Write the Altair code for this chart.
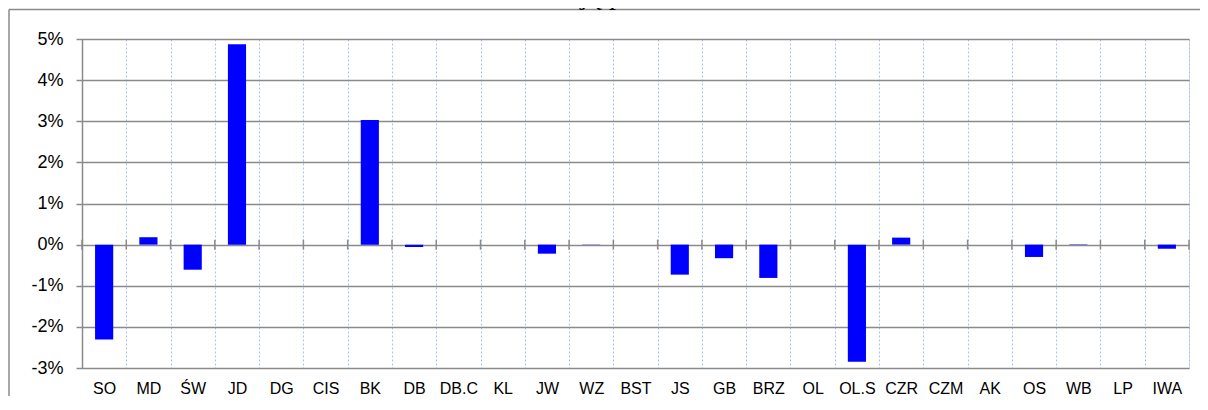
import altair as alt
import pandas as pd

categories = ["SO", "MD", "ŚW", "JD", "DG", "CIS", "BK", "DB", "DB.C", "KL", "JW", "WZ",
              "BST", "JS", "GB", "BRZ", "OL", "OL.S", "CZR", "CZM", "AK", "OS", "WB", "LP", "IWA"]
values = [-0.0231, 0.0018, -0.0061, 0.0487, 0.0, 0.0, 0.0303, -0.0006, 0.0, 0.0, -0.0022, -0.0001,
          0.0, -0.0073, -0.0033, -0.0081, 0.0, -0.0285, 0.0017, 0.0, 0.0, -0.0030, 0.0001, 0.0, -0.0010]
y_ticks = [-0.03, -0.02, -0.01, 0.0, 0.01, 0.02, 0.03, 0.04, 0.05]
title_text = "rewizją planu u.t."

W, H = 1107, 329
GRAY = "#8a8a8a"
FONT = "Liberation Sans"

df = pd.DataFrame({"cat": categories, "val": values})
df_end = pd.DataFrame({"cat": [categories[-1]]})

xscale = alt.Scale(domain=categories, paddingInner=0, paddingOuter=0)
yscale = alt.Scale(domain=[-0.03, 0.05], nice=False, zero=False)

border_top = alt.Chart(df_end).mark_rule(color=GRAY, strokeWidth=1.5).encode(
    x=alt.value(-73), x2=alt.value(W + 11), y=alt.value(-29.5))
border_left = alt.Chart(df_end).mark_rule(color=GRAY, strokeWidth=1.5).encode(
    x=alt.value(-73), y=alt.value(-29.5), y2=alt.value(H + 28))

bars = alt.Chart(df).mark_bar(color="#0000FF", width=alt.RelativeBandSize(0.41)).encode(
    x=alt.X("cat:N", scale=xscale, sort=categories, title=None,
            axis=alt.Axis(orient="bottom", grid=True, gridDash=[2, 2], gridColor="#a9c2ec",
                          gridWidth=1, tickBand="extent", ticks=False, domain=False,
                          labelAngle=0, labelFont=FONT, labelFontSize=16, labelColor="black",
                          labelPadding=12)),
    y=alt.Y("val:Q", scale=yscale, title=None,
            axis=alt.Axis(values=y_ticks, labelExpr="round(datum.value*100) + '%'",
                          grid=True, gridColor=GRAY, gridWidth=1.5,
                          domain=True, domainColor=GRAY, domainWidth=1.5,
                          ticks=True, tickColor=GRAY, tickWidth=1.5, tickSize=6,
                          labelFont=FONT, labelFontSize=18, labelColor="black",
                          labelPadding=13)),
)

zero_ticks = alt.Chart(df).mark_rule(color=GRAY, strokeWidth=1.5, yOffset=-5, y2Offset=5).encode(
    x=alt.X("cat:N", scale=xscale, sort=categories, bandPosition=0),
    y=alt.datum(0),
    y2=alt.datum(0),
)
zero_tick_end = alt.Chart(df_end).mark_rule(color=GRAY, strokeWidth=1.5, yOffset=-5, y2Offset=5).encode(
    x=alt.X("cat:N", scale=xscale, sort=categories, bandPosition=1),
    y=alt.datum(0),
    y2=alt.datum(0),
)

title = alt.Chart(df_end).mark_text(
    font="Liberation Serif", fontStyle="italic", fontSize=28, color="black",
    align="center", baseline="alphabetic").encode(
    x=alt.value(538), y=alt.value(-35), text=alt.value(title_text))

chart = alt.layer(border_top, border_left, bars, zero_ticks, zero_tick_end, title).properties(
    width=W, height=H,
    autosize=alt.AutoSizeParams(type="none"),
    padding={"left": 74, "top": 31, "right": 11, "bottom": 28},
).configure_view(stroke=None).configure(background="white")

chart.save("out.html", embed_options={"renderer": "svg", "actions": False})
